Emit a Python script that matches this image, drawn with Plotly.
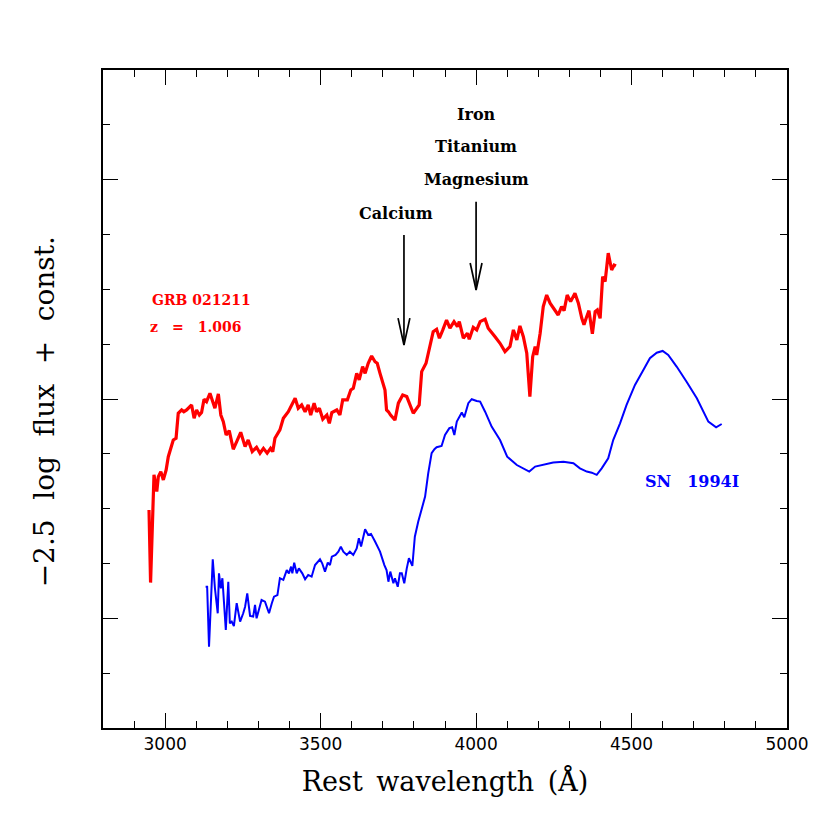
import plotly.graph_objects as go

# GRB 021211 spectrum (rest wavelength, -2.5 log flux + const)
grb_wl = [2948, 2953, 2964, 2973, 2978, 2986, 2994, 3003, 3010, 3021, 3026, 3035, 3042, 3053, 3060, 3069,
          3085, 3093, 3101, 3110, 3117, 3125, 3133, 3144, 3153, 3160, 3171, 3179, 3187, 3196, 3206, 3219,
          3230, 3243, 3257, 3267, 3280, 3294, 3305, 3316, 3328, 3339, 3346, 3353, 3369, 3380, 3396, 3418,
          3428, 3439, 3450, 3460, 3468, 3479, 3487, 3496, 3507, 3520, 3528, 3536, 3552, 3562, 3571, 3586,
          3597, 3605, 3616, 3624, 3635, 3643, 3653, 3664, 3675, 3682, 3691, 3702, 3707, 3712, 3718, 3725,
          3736, 3739, 3750, 3764, 3777, 3787, 3798, 3817, 3825, 3839, 3850, 3862, 3873, 3882, 3893, 3905,
          3916, 3929, 3940, 3946, 3959, 3972, 3978, 3991, 4002, 4013, 4029, 4039, 4061, 4077, 4093, 4109,
          4120, 4131, 4141, 4152, 4163, 4173, 4182, 4190, 4195, 4206, 4216, 4227, 4238, 4248, 4264, 4275,
          4283, 4293, 4304, 4318, 4329, 4340, 4347, 4354, 4363, 4374, 4383, 4390, 4399, 4407, 4415, 4425,
          4436, 4444, 4450]
grb_mag = [0.994, 0.663, 1.154, 1.078, 1.146, 1.169, 1.131, 1.176, 1.237, 1.283, 1.313, 1.321, 1.435, 1.450,
           1.442, 1.450, 1.473, 1.412, 1.450, 1.427, 1.438, 1.499, 1.488, 1.526, 1.488, 1.458, 1.523, 1.427,
           1.397, 1.336, 1.356, 1.271, 1.306, 1.348, 1.283, 1.313, 1.260, 1.280, 1.253, 1.275, 1.253, 1.275,
           1.260, 1.321, 1.359, 1.412, 1.442, 1.503, 1.458, 1.473, 1.442, 1.473, 1.427, 1.481, 1.442, 1.458,
           1.408, 1.427, 1.389, 1.438, 1.450, 1.427, 1.496, 1.496, 1.541, 1.549, 1.617, 1.587, 1.648, 1.617,
           1.663, 1.696, 1.670, 1.663, 1.617, 1.556, 1.541, 1.450, 1.442, 1.427, 1.412, 1.404, 1.481, 1.518,
           1.511, 1.473, 1.435, 1.473, 1.625, 1.663, 1.739, 1.807, 1.818, 1.777, 1.815, 1.860, 1.823, 1.853,
           1.830, 1.853, 1.777, 1.800, 1.772, 1.827, 1.815, 1.853, 1.864, 1.823, 1.784, 1.754, 1.716, 1.739,
           1.815, 1.769, 1.833, 1.784, 1.709, 1.511, 1.693, 1.739, 1.701, 1.800, 1.921, 1.974, 1.937, 1.914,
           1.883, 1.921, 1.903, 1.974, 1.944, 1.982, 1.937, 1.868, 1.838, 1.868, 1.903, 1.797, 1.898, 1.906,
           1.868, 2.058, 2.035, 2.165, 2.088, 2.111, 2.107]

# SN 1994I template spectrum
sn_wl = [3130, 3135, 3141, 3153, 3160, 3169, 3173, 3179, 3184, 3195, 3203, 3208, 3214, 3221, 3230, 3241,
         3251, 3257, 3264, 3273, 3283, 3289, 3294, 3305, 3310, 3321, 3326, 3334, 3343, 3350, 3361, 3369,
         3380, 3391, 3398, 3405, 3409, 3415, 3423, 3430, 3441, 3450, 3460, 3471, 3482, 3498, 3505, 3514,
         3523, 3530, 3536, 3548, 3557, 3565, 3573, 3584, 3594, 3605, 3616, 3623, 3630, 3643, 3653, 3662,
         3675, 3691, 3705, 3712, 3718, 3724, 3734, 3739, 3748, 3755, 3761, 3769, 3777, 3784, 3795, 3803,
         3814, 3827, 3836, 3846, 3857, 3866, 3873, 3889, 3900, 3914, 3923, 3930, 3938, 3954, 3962, 3975,
         3986, 4002, 4013, 4029, 4050, 4077, 4100, 4131, 4152, 4171, 4190, 4216, 4248, 4281, 4313, 4334,
         4356, 4372, 4388, 4404, 4425, 4441, 4463, 4484, 4511, 4538, 4559, 4581, 4600, 4618, 4645, 4677,
         4710, 4747, 4772, 4790]
sn_mag = [0.644, 0.644, 0.371, 0.769, 0.637, 0.523, 0.705, 0.637, 0.683, 0.447, 0.667, 0.477, 0.485, 0.465,
          0.569, 0.485, 0.523, 0.553, 0.614, 0.511, 0.508, 0.561, 0.500, 0.553, 0.584, 0.576, 0.553, 0.523,
          0.569, 0.599, 0.606, 0.683, 0.675, 0.720, 0.705, 0.736, 0.705, 0.754, 0.705, 0.728, 0.705, 0.678,
          0.698, 0.690, 0.743, 0.769, 0.751, 0.713, 0.754, 0.743, 0.781, 0.789, 0.804, 0.827, 0.804, 0.789,
          0.804, 0.789, 0.819, 0.865, 0.827, 0.906, 0.880, 0.885, 0.850, 0.804, 0.743, 0.720, 0.667, 0.713,
          0.660, 0.683, 0.644, 0.705, 0.705, 0.660, 0.728, 0.774, 0.739, 0.872, 0.941, 1.002, 1.055, 1.161,
          1.253, 1.271, 1.280, 1.286, 1.336, 1.367, 1.371, 1.336, 1.397, 1.438, 1.417, 1.481, 1.499, 1.491,
          1.488, 1.442, 1.374, 1.313, 1.237, 1.199, 1.184, 1.169, 1.192, 1.199, 1.210, 1.214, 1.207, 1.184,
          1.169, 1.164, 1.154, 1.184, 1.230, 1.313, 1.389, 1.473, 1.564, 1.632, 1.686, 1.711, 1.719, 1.701,
          1.648, 1.579, 1.503, 1.397, 1.371, 1.386]

# line identifications
arrow_wl = [3768, 4000]
arrow_top = [2.248, 2.399]
arrow_tip = [1.746, 1.997]
line_labels = [["Calcium"], ["Magnesium", "Titanium", "Iron"]]
label_wl = [3742, 4000]
label_y0 = [2.344, 2.499]
label_step = 0.150

x_ticks = [3000, 3500, 4000, 4500, 5000]

ES = "\u2002"  # en space, for the wide spacing of the original lettering
TS = "\u2009"  # thin space

fig = go.Figure()
fig.add_trace(go.Scatter(x=grb_wl, y=grb_mag, mode="lines",
                         line=dict(color="#ff0000", width=3.2), showlegend=False))
fig.add_trace(go.Scatter(x=sn_wl, y=sn_mag, mode="lines",
                         line=dict(color="#0000ff", width=2), showlegend=False))

head_dx = 19
head_dy = 0.123
for wl, top, tip in zip(arrow_wl, arrow_top, arrow_tip):
    fig.add_trace(go.Scatter(x=[wl, wl, None, wl - head_dx, wl, wl + head_dx],
                             y=[top, tip, None, tip + head_dy, tip, tip + head_dy],
                             mode="lines", line=dict(color="black", width=1.7),
                             showlegend=False, hoverinfo="skip"))

annots = []
lab_font = dict(family="DejaVu Serif", size=16, color="black", weight="bold")
for labs, wl, y0 in zip(line_labels, label_wl, label_y0):
    for i, t in enumerate(labs):
        annots.append(dict(x=wl, y=y0 + i * label_step, xref="x", yref="y", text=t,
                           showarrow=False, font=lab_font, xanchor="center", yanchor="middle"))

red_font = dict(family="DejaVu Serif", size=14, color="#ff0000", weight="bold")
annots.append(dict(x=2952, y=1.952, xref="x", yref="y", text="GRB 021211", showarrow=False,
                   font=red_font, xanchor="left", yanchor="middle"))
annots.append(dict(x=2946, y=1.829, xref="x", yref="y", text="z" + ES + ES + "=" + ES + ES + "1.006",
                   showarrow=False, font=red_font, xanchor="left", yanchor="middle"))
annots.append(dict(x=4694, y=1.122, xref="x", yref="y", text="SN" + ES + ES + "1994I", showarrow=False,
                   font=dict(family="DejaVu Serif", size=16, color="#0000ff", weight="bold"),
                   xanchor="center", yanchor="middle"))

# y-axis title placed as rotated text (slightly below the axis centre as in the original)
sp = ES + TS
annots.append(dict(x=-0.086, y=0.48, xref="paper", yref="paper",
                   text="−2.5" + sp + "log" + sp + "flux" + sp + "+" + sp + "const.",
                   textangle=-90, showarrow=False, xanchor="center", yanchor="middle",
                   font=dict(family="DejaVu Serif", size=28, color="black")))

fig.update_layout(
    width=830, height=830,
    margin=dict(l=95, r=51, t=62, b=110),
    paper_bgcolor="white", plot_bgcolor="white",
    annotations=annots,
    xaxis=dict(range=[2800, 5000], tickvals=x_ticks, ticktext=[str(v) for v in x_ticks],
               ticks="inside", ticklen=15, tickwidth=1.3, tickcolor="black",
               minor=dict(dtick=100, ticks="inside", ticklen=7, tickwidth=1.3, tickcolor="black"),
               showline=True, linewidth=2, linecolor="black", mirror="allticks",
               showgrid=False, zeroline=False,
               tickfont=dict(family="DejaVu Sans", size=17, color="black"),
               title=dict(text="Rest" + ES + "wavelength" + ES + "(Å)", standoff=19,
                          font=dict(family="DejaVu Serif", size=27, color="black"))),
    yaxis=dict(range=[0, 3], tick0=0.5, dtick=1,
               ticks="inside", ticklen=15, tickwidth=1.3, tickcolor="black",
               minor=dict(dtick=0.25, ticks="inside", ticklen=7, tickwidth=1.3, tickcolor="black"),
               showline=True, linewidth=2, linecolor="black", mirror="allticks",
               showgrid=False, zeroline=False, showticklabels=False),
)

fig.write_html("out.html")
